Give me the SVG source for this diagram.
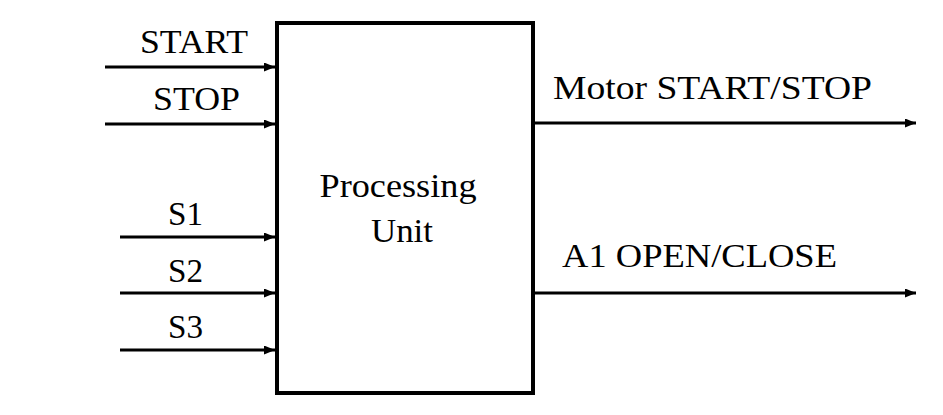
<svg xmlns="http://www.w3.org/2000/svg" width="943" height="415" viewBox="0 0 943 415">
<style>
.ln{stroke:#000;stroke-width:3;fill:none}
</style>
<defs>
<marker id="ah" viewBox="0 0 11 9" refX="11" refY="4.5" markerWidth="11" markerHeight="9" markerUnits="userSpaceOnUse" orient="auto">
<path d="M0,0L11,4.5L0,9z" fill="#000"/>
</marker>
</defs>
<rect width="943" height="415" fill="#fff"/>
<g font-family="Liberation Serif, Times New Roman, serif" font-size="34" fill="#000">
<g id="unit">
<rect x="277" y="23" width="256" height="370" fill="#fff" stroke="#000" stroke-width="4"/>
<text x="398" y="197" text-anchor="middle" textLength="157" lengthAdjust="spacingAndGlyphs">Processing</text>
<text x="402" y="242" text-anchor="middle" textLength="62" lengthAdjust="spacingAndGlyphs">Unit</text>
</g>
<g id="labels">
<text x="140" y="53" textLength="108" lengthAdjust="spacingAndGlyphs">START</text>
<text x="153" y="110" textLength="87" lengthAdjust="spacingAndGlyphs">STOP</text>
<text x="168" y="225" textLength="35" lengthAdjust="spacingAndGlyphs">S1</text>
<text x="168" y="282" textLength="35" lengthAdjust="spacingAndGlyphs">S2</text>
<text x="168" y="338" textLength="35" lengthAdjust="spacingAndGlyphs">S3</text>
<text x="553" y="99" textLength="319" lengthAdjust="spacingAndGlyphs">Motor START/STOP</text>
<text x="562" y="267" textLength="275" lengthAdjust="spacingAndGlyphs">A1 OPEN/CLOSE</text>
</g>
</g>
<g id="connectors">
<line class="ln" x1="105" y1="67" x2="275" y2="67" marker-end="url(#ah)"/>
<line class="ln" x1="105" y1="124" x2="275" y2="124" marker-end="url(#ah)"/>
<line class="ln" x1="120" y1="237" x2="275" y2="237" marker-end="url(#ah)"/>
<line class="ln" x1="120" y1="293" x2="275" y2="293" marker-end="url(#ah)"/>
<line class="ln" x1="120" y1="350" x2="275" y2="350" marker-end="url(#ah)"/>
<line class="ln" x1="535" y1="123" x2="916" y2="123" marker-end="url(#ah)"/>
<line class="ln" x1="535" y1="293" x2="916" y2="293" marker-end="url(#ah)"/>
</g>
</svg>
